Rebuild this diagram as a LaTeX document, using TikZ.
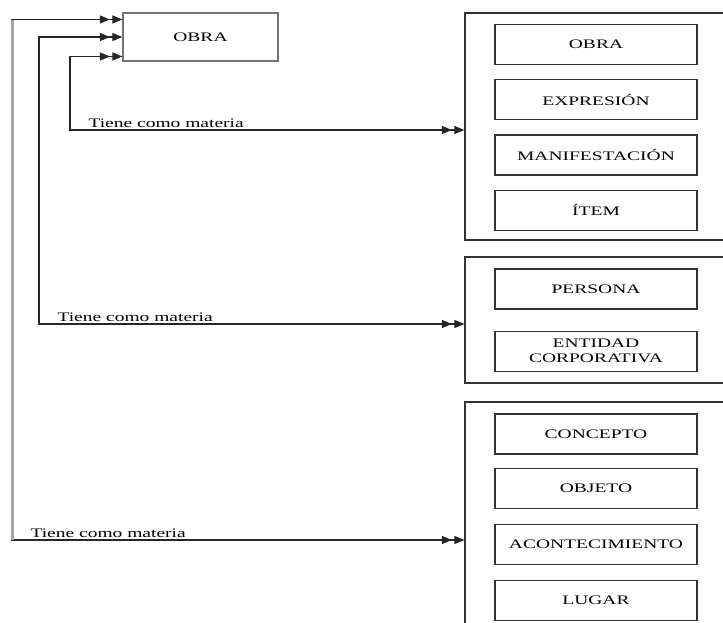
\documentclass[tikz,border=0pt]{standalone}
\usepackage{fontspec}
\setmainfont[FakeStretch=1.5]{Liberation Serif}
\usetikzlibrary{
    arrows.meta,
    positioning
}

\tikzset{
    entity/.style={draw=black!80, line width=1.2pt, minimum width=202pt, minimum height=40pt,
        inner sep=0pt, align=center, text=black, font=\fontsize{13}{15}\selectfont},
    topbox/.style={draw=black!55, line width=1.2pt, minimum width=155pt, minimum height=48pt,
        inner sep=0pt, text=black, font=\fontsize{13}{15}\selectfont},
    group/.style={draw=black!80, line width=1.2pt, inner sep=0pt},
    dbltip/.tip={Triangle[length=10pt,width=8pt,sep=2.5pt] Triangle[length=10pt,width=8pt]},
    link/.style={draw=black!85, line width=1.1pt, dbltip-dbltip},
    lbl/.style={inner sep=0pt, anchor=base west, xshift=18pt, yshift=3pt, text=black,
        font=\fontsize{13}{15}\selectfont},
    spine/.style={draw=black!35, line width=3pt}
}

\begin{document}
\begin{tikzpicture}[x=1pt, y=-1pt]
                        \useasboundingbox (0,0) rectangle (723,622);
                        \clip (0,0) rectangle (723,622);
                        % obra de la izquierda
                        \node[topbox] (obra) at (200.5,37) {OBRA};
                        % grupos de la derecha
                        \node[group, minimum width=300pt, minimum height=227pt] (grpA) at (615,126.5) {};
                        \node[group, minimum width=300pt, minimum height=126pt] (grpB) at (615,320) {};
                        \node[group, minimum width=300pt, minimum height=298pt] (grpC) at (615,551) {};
                        % grupo 1
                        \node[entity] (obraA) at (596,44.5) {OBRA};
                        \node[entity, below=14pt of obraA] (expresion) {EXPRESIÓN};
                        \node[entity, below=14pt of expresion] (manif) {MANIFESTACIÓN};
                        \node[entity, below=14pt of manif] (item) {ÍTEM};
                        % grupo 2
                        \node[entity] (persona) at (596,289) {PERSONA};
                        \node[entity, below=21pt of persona] (entidad) {ENTIDAD\\CORPORATIVA};
                        % grupo 3
                        \node[entity] (concepto) at (596,434) {CONCEPTO};
                        \node[entity, below=13.5pt of concepto] (objeto) {OBJETO};
                        \node[entity, below=14.5pt of objeto] (aconte) {ACONTECIMIENTO};
                        \node[entity, below=14.5pt of aconte] (lugar) {LUGAR};
                        % relaciones
                        \draw[link] ([yshift=17.5pt]obra.west) -| (12,540)
                            node[lbl] (lblC) {Tiene como materia} -- (grpC.west |- 0,540);
                        \draw[spine] (12,19.5) -- (12,540);
                        \draw[link] (obra.west) -| (39,324)
                            node[lbl] (lblB) {Tiene como materia} -- (grpB.west |- 0,324);
                        \draw[link] ([yshift=-19.5pt]obra.west) -| (70,130)
                            node[lbl] (lblA) {Tiene como materia} -- (grpA.west |- 0,130);
                    \end{tikzpicture}
\end{document}
